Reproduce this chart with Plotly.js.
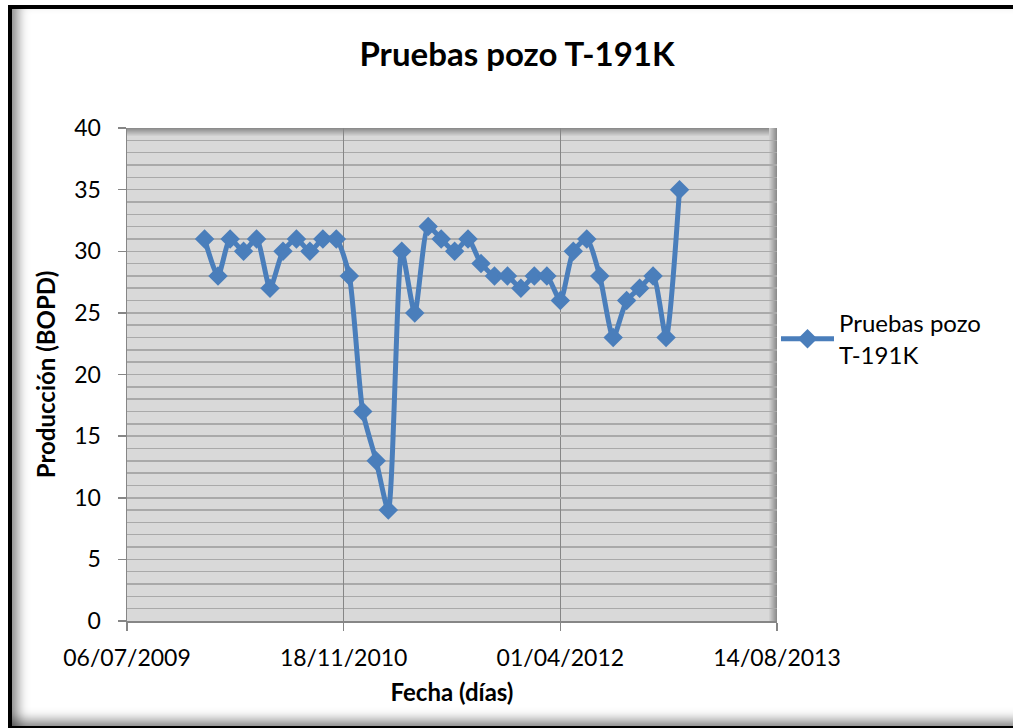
<!DOCTYPE html>
<html>
<head>
<meta charset="utf-8">
<script src="https://cdn.plot.ly/plotly-3.0.1.min.js"></script>
<style>
  html, body { margin: 0; padding: 0; background: #ffffff; overflow: hidden; width: 1013px; height: 728px; }
  #wrap { position: relative; width: 1013px; height: 728px; overflow: hidden; }
  #chart { position: absolute; left: 0; top: 0; width: 1013px; height: 728px; }
  #frame {
    position: absolute; left: 8px; top: 5px; width: 1040px; height: 723px;
    box-sizing: border-box;
    border-left: 4px solid #000; border-top: 4px solid #000; border-bottom: 2px solid #000;
    box-shadow: inset 14px 0 12px -8px rgba(0,0,0,0.45), inset 0 -14px 12px -8px rgba(0,0,0,0.45);
    pointer-events: none;
  }
</style>
</head>
<body>
<div id="wrap">
  <div id="chart"></div>
  <div id="frame"></div>
</div>
<script>
// ---- data ----
const fechas = [
  '2010-01-01','2010-02-01','2010-03-01','2010-04-01','2010-05-01','2010-06-01',
  '2010-07-01','2010-08-01','2010-09-01','2010-10-01','2010-11-01','2010-12-01',
  '2011-01-01','2011-02-01','2011-03-01','2011-04-01','2011-05-01','2011-06-01',
  '2011-07-01','2011-08-01','2011-09-01','2011-10-01','2011-11-01','2011-12-01',
  '2012-01-01','2012-02-01','2012-03-01','2012-04-01','2012-05-01','2012-06-01',
  '2012-07-01','2012-08-01','2012-09-01','2012-10-01','2012-11-01','2012-12-01',
  '2013-01-01'
];
const produccion = [
  31, 28, 31, 30, 31, 27,
  30, 31, 30, 31, 31, 28,
  17, 13, 9, 30, 25, 32,
  31, 30, 31, 29, 28, 28,
  27, 28, 28, 26, 30, 31,
  28, 23, 26, 27, 28, 23,
  35
];
const serieNombre = 'Pruebas pozo<br>T-191K';
const titulo = 'Pruebas pozo T-191K';
const tituloX = 'Fecha (días)';
const tituloY = 'Producción (BOPD)';
const rangoX = ['2009-07-06', '2013-08-14'];
const rangoY = [0, 40];

// ---- layout helpers (pixel -> paper) ----
const W = 1013, H = 728;
const M = { l: 127, r: 236, t: 128, b: 107 };
const PW = W - M.l - M.r, PH = H - M.t - M.b;
const px = x => (x - M.l) / PW;
const py = y => (H - M.b - y) / PH;

function lerpColor(a, b, t) {
  const pa = [parseInt(a.slice(1,3),16), parseInt(a.slice(3,5),16), parseInt(a.slice(5,7),16)];
  const pb = [parseInt(b.slice(1,3),16), parseInt(b.slice(3,5),16), parseInt(b.slice(5,7),16)];
  const c = pa.map((v, i) => Math.round(v + (pb[i] - v) * t));
  return 'rgb(' + c.join(',') + ')';
}
function rectPx(x0, y0, x1, y1, color, layer) {
  return { type: 'rect', xref: 'paper', yref: 'paper',
    x0: px(x0), x1: px(x1), y0: py(y1), y1: py(y0),
    fillcolor: color, line: { width: 0 }, layer: layer || 'above' };
}

const shapes = [];
// plot area top shadow
for (let i = 0; i < 8; i++) {
  shapes.push(rectPx(127, 128 + i, 777, 129 + i, lerpColor('#8c8c8c', '#d9d9d9', i / 8), 'below'));
}
// plot area right shadow
for (let i = 0; i < 8; i++) {
  shapes.push(rectPx(777 - i - 1, 128, 777 - i, 621, lerpColor('#8c8c8c', '#d9d9d9', i / 8), 'below'));
}

const fuente = 'Lato, "Noto Sans", sans-serif';

const trace = {
  x: fechas,
  y: produccion,
  type: 'scatter',
  mode: 'lines+markers',
  name: serieNombre,
  line: { color: '#4A7EBB', width: 5, shape: 'spline', smoothing: 0.6 },
  marker: { symbol: 'diamond', size: 15, color: '#4A7EBB' },
  cliponaxis: false
};

const layout = {
  width: W, height: H,
  margin: M,
  paper_bgcolor: '#ffffff',
  plot_bgcolor: '#d9d9d9',
  font: { family: fuente, color: '#000000', size: 23 },
  title: {
    text: '<b>' + titulo + '</b>',
    font: { family: fuente, size: 33, color: '#000000' },
    x: px(517), xref: 'paper', xanchor: 'center',
    y: 1 - 54 / H, yref: 'container', yanchor: 'middle'
  },
  showlegend: true,
  legend: {
    x: px(776), xanchor: 'left',
    y: py(339), yanchor: 'middle',
    bgcolor: 'rgba(0,0,0,0)',
    font: { family: fuente, size: 24, color: '#000000' },
    itemwidth: 53
  },
  xaxis: {
    type: 'date',
    range: rangoX,
    tick0: rangoX[0],
    dtick: 500 * 86400000,
    tickformat: '%d/%m/%Y',
    showgrid: true,
    gridcolor: '#868686',
    gridwidth: 1.5,
    showline: true,
    linecolor: '#868686',
    linewidth: 1.5,
    ticks: 'outside',
    ticklen: 8,
    tickcolor: '#868686',
    tickwidth: 1.5,
    ticklabelstandoff: 8,
    tickfont: { family: fuente, size: 23, color: '#000000' },
    zeroline: false,
    title: { text: '<b>' + tituloX + '</b>', font: { family: fuente, size: 24, color: '#000000' }, standoff: 14 }
  },
  yaxis: {
    range: rangoY,
    dtick: 5,
    tick0: 0,
    showgrid: true,
    gridcolor: '#a9a9a9',
    gridwidth: 1.5,
    minor: { dtick: 1, showgrid: true, gridcolor: '#a9a9a9', gridwidth: 1.5 },
    showline: true,
    linecolor: '#868686',
    linewidth: 1.5,
    ticks: 'outside',
    ticklen: 8,
    tickcolor: '#868686',
    tickwidth: 1.5,
    ticklabelstandoff: 12,
    tickfont: { family: fuente, size: 23, color: '#000000' },
    zeroline: false,
    title: { text: '<b>' + tituloY + '</b>', font: { family: fuente, size: 24, color: '#000000' }, standoff: 12 }
  },
  shapes: shapes
};

Plotly.newPlot('chart', [trace], layout, { displayModeBar: false, staticPlot: true });
</script>
</body>
</html>
